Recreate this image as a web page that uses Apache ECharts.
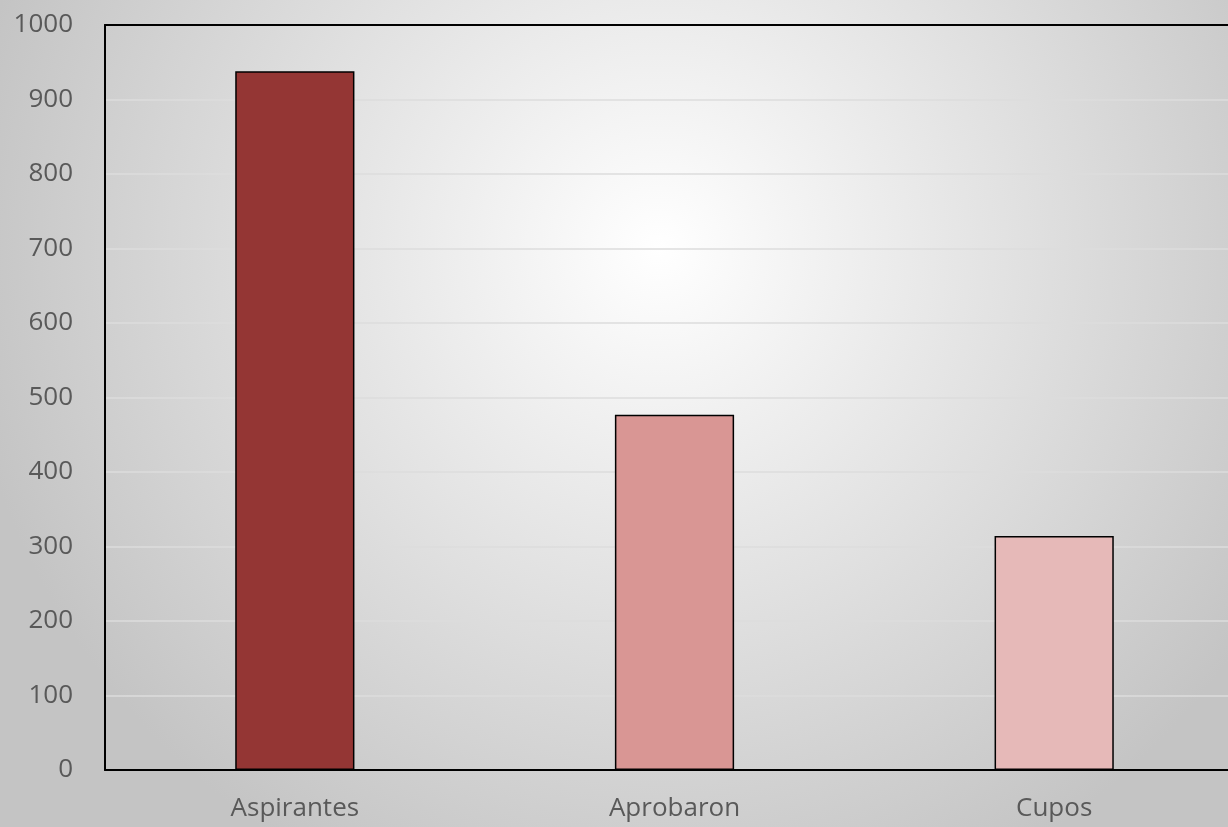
<!DOCTYPE html>
<html><head><meta charset="utf-8">
<script src="https://cdn.jsdelivr.net/npm/echarts@6/dist/echarts.min.js"></script>
<style>html,body{margin:0;padding:0;overflow:hidden;width:1228px;height:827px;background:#c4c4c4;}#c{width:1244px;height:827px;}</style>
</head><body><div id="c"></div>
<script>
const categories = ['Aspirantes', 'Aprobaron', 'Cupos'];
const values = [938, 477, 314];
const barColors = ['#943634', '#d99694', '#e6b9b8'];
const yTicks = [0, 100, 200, 300, 400, 500, 600, 700, 800, 900, 1000];

const chart = echarts.init(document.getElementById('c'));
chart.setOption({
  backgroundColor: {
    type: 'radial', x: 0.53, y: 0.3, r: 0.85,
    colorStops: [{offset: 0, color: '#ffffff'}, {offset: 1, color: '#c4c4c4'}]
  },
  animation: false,
  grid: {left: 105, right: 0, top: 25, bottom: 57},
  xAxis: [{
    type: 'category', data: categories,
    axisLine: {show: true, lineStyle: {color: '#000', width: 2}},
    axisTick: {show: false},
    axisLabel: {color: '#595959', fontSize: 26, fontFamily: 'Open Sans', margin: 26}
  }, {
    type: 'category', data: categories, position: 'top', z: 10,
    axisLine: {show: true, lineStyle: {color: '#000', width: 2}},
    axisTick: {show: false}, axisLabel: {show: false}
  }],
  yAxis: {
    type: 'value', min: yTicks[0], max: yTicks[yTicks.length - 1], interval: 100,
    axisLine: {show: true, lineStyle: {color: '#000', width: 2}},
    axisTick: {show: false},
    axisLabel: {color: '#595959', fontSize: 26, fontFamily: 'Open Sans', margin: 32, formatter: v => String(v)},
    splitLine: {show: true, lineStyle: {color: '#dcdcdc', width: 1.5}}
  },
  series: [{
    type: 'bar', barWidth: '31.4%',
    data: values.map((v, i) => ({value: v, itemStyle: {color: barColors[i]}})),
    itemStyle: {borderColor: '#000', borderWidth: 1.5}
  }]
});
</script></body></html>
